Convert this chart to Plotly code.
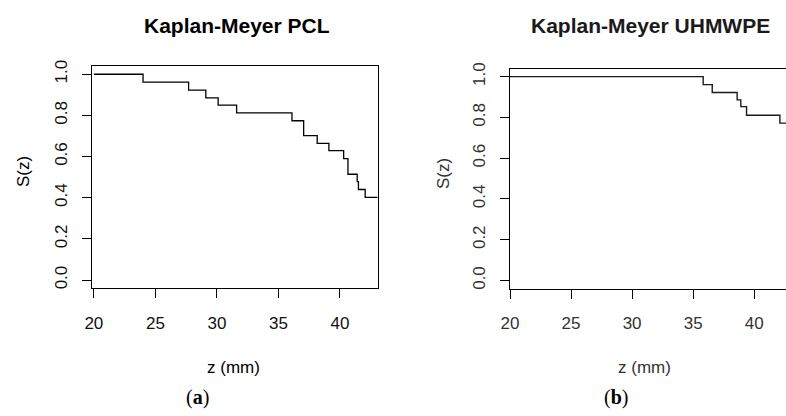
import plotly.graph_objects as go

# Kaplan-Meier survival estimates S(z) versus penetration depth z (mm)
z_pcl = [20.0, 24.0, 27.7, 29.1, 30.1, 31.6, 36.1, 37.05, 38.15, 39.1, 40.3, 40.65, 41.4, 41.5, 42.05, 43.1]
s_pcl = [1.0, 0.962, 0.923, 0.885, 0.850, 0.812, 0.774, 0.702, 0.664, 0.629, 0.590, 0.514, 0.478, 0.440, 0.402, 0.402]

z_uhmwpe = [20.0, 35.82, 36.56, 38.6, 38.9, 39.37, 42.1, 43.1]
s_uhmwpe = [1.0, 0.961, 0.922, 0.886, 0.853, 0.811, 0.772, 0.772]

x_ticks = [20, 25, 30, 35, 40]
y_ticks = [0.0, 0.2, 0.4, 0.6, 0.8, 1.0]
y_tick_text = ["0.0", "0.2", "0.4", "0.6", "0.8", "1.0"]

W, H = 786, 416
SANS = "Liberation Sans, Arial, sans-serif"
SERIF = "Liberation Serif, Times New Roman, serif"


def px_x(p):
    return p / W


def px_y(p):
    return 1 - p / H


fig = go.Figure()
fig.add_trace(go.Scatter(x=z_pcl, y=s_pcl, mode="lines", line=dict(shape="hv", color="black", width=1.3),
                         xaxis="x", yaxis="y", hoverinfo="skip"))
fig.add_trace(go.Scatter(x=z_uhmwpe, y=s_uhmwpe, mode="lines", line=dict(shape="hv", color="#1a1a1a", width=1.4),
                         xaxis="x2", yaxis="y2", hoverinfo="skip"))


def axis_style(text_color):
    return dict(showgrid=False, zeroline=False, showline=True, linecolor="black", linewidth=1.2,
                ticks="outside", ticklen=9, tickwidth=1.2, tickcolor="black", automargin=False,
                tickfont=dict(family=SANS, size=17, color=text_color))


fig.update_layout(
    template="none",
    width=W, height=H, margin=dict(l=0, r=0, t=0, b=0, pad=0),
    paper_bgcolor="white", plot_bgcolor="white", showlegend=False,
    xaxis=dict(domain=[px_x(92), px_x(377.5)], range=[19.85, 43.05], tickvals=x_ticks,
               mirror=True, anchor="y", ticklabelstandoff=10, **axis_style("#111")),
    yaxis=dict(domain=[px_y(288.3), px_y(66)], range=[-0.04, 1.04], tickvals=y_ticks, ticktext=y_tick_text,
               tickangle=-90, mirror=True, anchor="x", ticklabelstandoff=8, **axis_style("#111")),
    xaxis2=dict(domain=[px_x(510), 1.0], range=[20, 42.6], tickvals=x_ticks,
                mirror=True, anchor="y2", ticklabelstandoff=10, **axis_style("#333")),
    yaxis2=dict(domain=[px_y(288.7), px_y(68.5)], range=[-0.04, 1.04], tickvals=y_ticks, ticktext=y_tick_text,
                tickangle=-90, mirror=False, anchor="x2", ticklabelstandoff=8, **axis_style("#333")),
)

annotations = [
    dict(text="<b>Kaplan-Meyer PCL</b>", x=px_x(236.5), y=px_y(25), font=dict(family=SANS, size=21, color="black")),
    dict(text="<b>Kaplan-Meyer UHMWPE</b>", x=px_x(650), y=px_y(25), font=dict(family=SANS, size=21, color="#1a1a1a")),
    dict(text="S(z)", x=px_x(23), y=px_y(172), textangle=-90, font=dict(family=SANS, size=17, color="black")),
    dict(text="S(z)", x=px_x(443), y=px_y(173), textangle=-90, font=dict(family=SANS, size=17, color="#333")),
    dict(text="z (mm)", x=px_x(233), y=px_y(367.5), font=dict(family=SANS, size=17, color="black")),
    dict(text="z (mm)", x=px_x(644), y=px_y(367.5), font=dict(family=SANS, size=17, color="#333")),
    dict(text="(<b>a</b>)", x=px_x(198), y=px_y(397.5), font=dict(family=SERIF, size=20, color="black")),
    dict(text="(<b>b</b>)", x=px_x(616), y=px_y(397.5), font=dict(family=SERIF, size=20, color="black")),
]
for a in annotations:
    a.update(xref="paper", yref="paper", showarrow=False, xanchor="center", yanchor="middle")
fig.update_layout(annotations=annotations)

fig.write_html("out.html")
